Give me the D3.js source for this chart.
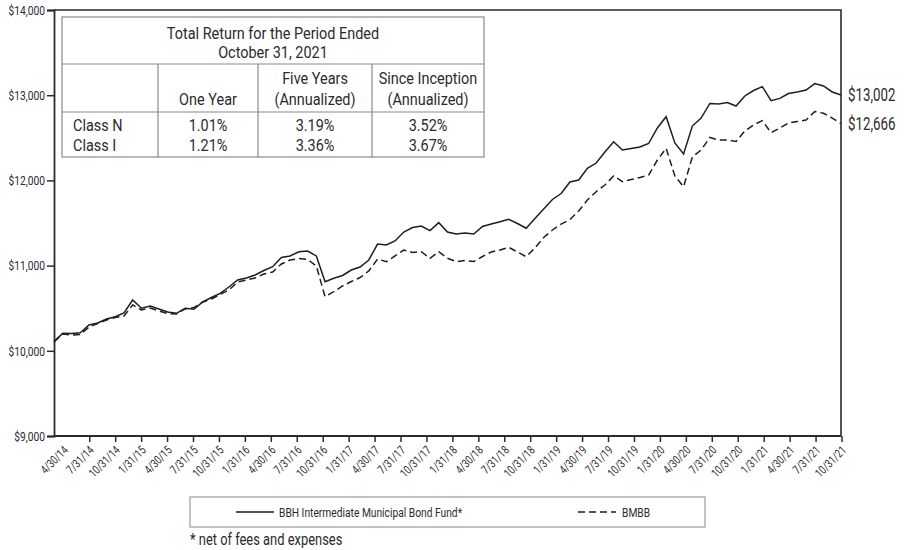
<!DOCTYPE html>
<html lang="en">
<head>
	<meta charset="utf-8">
	<title>BBH Intermediate Municipal Bond Fund - Growth of $10,000</title>
	<script src="https://d3js.org/d3.v7.min.js"></script>
	<style>
		body {margin:0; background:#fff;}
		svg text {font-family:Roboto, "Liberation Sans", sans-serif; fill:#2b2b2b;}
	</style>
</head>
<body>
	<div id="chart"></div>
	<script>
		// Monthly values, 4/30/14 through 10/31/21
		const fundValues = [
			10110, 10205, 10203, 10212, 10303, 10326, 10373, 10400, 10444, 10596,
			10499, 10526, 10490, 10455, 10440, 10499, 10487, 10573, 10626, 10673,
			10749, 10831, 10854, 10890, 10942, 10987, 11095, 11113, 11163, 11171,
			11113, 10811, 10851, 10884, 10948, 10984, 11066, 11253, 11242, 11289,
			11394, 11447, 11465, 11410, 11504, 11394, 11371, 11383, 11371, 11459,
			11488, 11515, 11543, 11494, 11438, 11553, 11664, 11776, 11846, 11981,
			12005, 12142, 12204, 12333, 12454, 12357, 12374, 12392, 12433, 12615,
			12748, 12439, 12310, 12638, 12732, 12903, 12897, 12914, 12873, 12991,
			13055, 13100, 12935, 12963, 13020, 13038, 13061, 13137, 13108, 13038,
			13002
		];
		const indexValues = [
			10105, 10197, 10185, 10191, 10279, 10320, 10361, 10391, 10408, 10538,
			10479, 10502, 10467, 10438, 10432, 10491, 10508, 10573, 10608, 10661,
			10714, 10808, 10831, 10854, 10901, 10925, 11019, 11066, 11083, 11074,
			10995, 10635, 10694, 10761, 10813, 10860, 10937, 11077, 11046, 11113,
			11183, 11154, 11163, 11086, 11163, 11086, 11046, 11060, 11048, 11107,
			11160, 11183, 11215, 11160, 11104, 11207, 11330, 11418, 11488, 11541,
			11641, 11770, 11867, 11946, 12052, 11985, 12010, 12034, 12063, 12239,
			12377, 12052, 11926, 12275, 12357, 12504, 12474, 12474, 12457, 12580,
			12650, 12701, 12560, 12615, 12674, 12691, 12709, 12809, 12788, 12732,
			12666
		];
		const xTickLabels = [
			"4/30/14", "7/31/14", "10/31/14", "1/31/15", "4/30/15", "7/31/15", "10/31/15",
			"1/31/16", "4/30/16", "7/31/16", "10/31/16", "1/31/17", "4/30/17", "7/31/17",
			"10/31/17", "1/31/18", "4/30/18", "7/31/18", "10/31/18", "1/31/19", "4/30/19",
			"7/31/19", "10/31/19", "1/31/20", "4/30/20", "7/31/20", "10/31/20", "1/31/21",
			"4/30/21", "7/31/21", "10/31/21"
		];
		const yTicks = [9000, 10000, 11000, 12000, 13000, 14000];
		const seriesNames = ["BBH Intermediate Municipal Bond Fund*", "BMBB"];
		const endLabels = ["$13,002", "$12,666"];

		const tableTitle = ["Total Return for the Period Ended", "October 31, 2021"];
		const tableColumns = [["", "One Year"], ["Five Years", "(Annualized)"], ["Since Inception", "(Annualized)"]];
		const tableClasses = ["Class N", "Class I"];
		const tableReturns = [["1.01%", "3.19%", "3.52%"], ["1.21%", "3.36%", "3.67%"]];

		const width = 911;
		const height = 550;
		const plotLeft = 54, plotRight = 841, plotTop = 10, plotBottom = 436;
		const squeezeX = 0.76; // no condensed font installed, so narrow the glyphs

		const svg = d3.select("#chart")
							.append("svg")
							.attr("width", width)
							.attr("height", height);

		// text helper: condensed look via horizontal scaling
		function addText(parent, tx, ty, str, size, anchor, squeeze) {
			return parent.append("text")
						 .attr("transform", "translate(" + tx + "," + ty + ") scale(" + (squeeze || squeezeX) + ",1)")
						 .style("font-size", size + "px")
						 .style("text-anchor", anchor || "start")
						 .text(str);
		}

		const x = d3.scaleLinear()
					.domain([0, fundValues.length - 1])
					.range([plotLeft, plotRight]);
		const xLabel = d3.scalePoint()
					.domain(xTickLabels)
					.range([63.3, plotRight + 0.5]);
		const y = d3.scaleLinear()
					.domain([9000, 14000])
					.range([plotBottom, plotTop]);

		// plot frame (top and right)
		svg.append("path")
			 .attr("d", "M" + plotLeft + "," + plotTop + "H" + plotRight + "V" + plotBottom)
			 .attr("fill", "none")
			 .attr("stroke", "#2b2b2b")
			 .attr("stroke-width", 1.6);

		// y axis
		const yAxis = d3.axisLeft(y)
						.tickValues(yTicks)
						.tickSize(7)
						.tickFormat(function (d) { return "$" + d3.format(",")(d); });
		const gy = svg.append("g")
					.attr("transform", "translate(" + plotLeft + ",0)")
					.call(yAxis);
		gy.select(".domain").attr("stroke", "#2b2b2b").attr("stroke-width", 1.8);
		gy.selectAll(".tick line").attr("stroke", "#2b2b2b").attr("stroke-width", 1.5);
		gy.selectAll(".tick text")
			.attr("x", 0)
			.attr("transform", "translate(-9,0) scale(" + squeezeX + ",1)")
			.style("font-size", "13.5px")
			.style("font-family", "Roboto, sans-serif")
			.attr("fill", "#2b2b2b");

		// x axis
		const xAxis = d3.axisBottom(xLabel)
						.tickSize(6)
						.tickSizeOuter(0);
		const gx = svg.append("g")
					.attr("transform", "translate(0," + plotBottom + ")")
					.call(xAxis);
		gx.select(".domain").attr("d", "M" + plotLeft + ",0H" + plotRight).attr("stroke", "#2b2b2b").attr("stroke-width", 1.8);
		gx.selectAll(".tick line")
			.attr("stroke", "#2b2b2b")
			.attr("stroke-width", 1.5)
			.attr("opacity", function (d, i) { return i === 0 ? 0 : 1; });
		gx.selectAll(".tick text")
			.attr("y", 0)
			.attr("dy", 0)
			.attr("transform", "translate(5,15) rotate(-45) scale(" + squeezeX + ",1)")
			.style("text-anchor", "end")
			.style("font-size", "12px")
			.style("font-family", "Roboto, sans-serif")
			.attr("fill", "#2b2b2b");

		// lines
		const line = d3.line()
					.x(function (d, i) { return x(i); })
					.y(function (d) { return y(d); });
		svg.append("path")
			 .datum(indexValues)
			 .attr("d", line)
			 .attr("fill", "none")
			 .attr("stroke", "#1e1e1e")
			 .attr("stroke-width", 1.5)
			 .attr("stroke-dasharray", "7,4");
		svg.append("path")
			 .datum(fundValues)
			 .attr("d", line)
			 .attr("fill", "none")
			 .attr("stroke", "#1e1e1e")
			 .attr("stroke-width", 1.5);

		// end value labels
		const endValues = [fundValues[fundValues.length - 1], indexValues[indexValues.length - 1]];
		endValues.forEach(function (v, i) {
			addText(svg, plotRight + 7, y(v) + 6, endLabels[i], 17.5);
		});

		// returns table
		const tb = {x0: 62, x1: 484, y0: 17, yTitle: 64, yHead: 112, y1: 157, cols: [158, 258, 372]};
		const tableFont = 17;
		const tableSqueeze = 0.85;
		const table = svg.append("g");
		table.append("rect")
			 .attr("x", tb.x0).attr("y", tb.y0)
			 .attr("width", tb.x1 - tb.x0).attr("height", tb.y1 - tb.y0)
			 .attr("fill", "#fff")
			 .attr("stroke", "#8a8a8a")
			 .attr("stroke-width", 1.2);
		[tb.yTitle, tb.yHead].forEach(function (yy) {
			table.append("line")
				 .attr("x1", tb.x0).attr("x2", tb.x1)
				 .attr("y1", yy).attr("y2", yy)
				 .attr("stroke", "#8a8a8a").attr("stroke-width", 1.2);
		});
		tb.cols.forEach(function (xx) {
			table.append("line")
				 .attr("x1", xx).attr("x2", xx)
				 .attr("y1", tb.yTitle).attr("y2", tb.y1)
				 .attr("stroke", "#8a8a8a").attr("stroke-width", 1.2);
		});
		tableTitle.forEach(function (t, i) {
			addText(table, (tb.x0 + tb.x1) / 2, 38.5 + i * 19, t, tableFont, "middle", tableSqueeze);
		});
		const colCenters = [(tb.cols[0] + tb.cols[1]) / 2, (tb.cols[1] + tb.cols[2]) / 2, (tb.cols[2] + tb.x1) / 2];
		tableColumns.forEach(function (c, ci) {
			c.forEach(function (t, li) {
				addText(table, colCenters[ci], 84 + li * 21, t, tableFont, "middle", tableSqueeze);
			});
		});
		tableClasses.forEach(function (c, ri) {
			addText(table, 73, 130.5 + ri * 20.5, c, tableFont, "start", tableSqueeze);
			tableReturns[ri].forEach(function (v, ci) {
				addText(table, colCenters[ci], 130.5 + ri * 20.5, v, tableFont, "middle", tableSqueeze);
			});
		});

		// legend
		const legend = svg.append("g");
		legend.append("rect")
			 .attr("x", 190).attr("y", 497)
			 .attr("width", 515).attr("height", 30)
			 .attr("fill", "#fff")
			 .attr("stroke", "#9a9a9a")
			 .attr("stroke-width", 1.2);
		const legendItems = [
			{x1: 236, x2: 274, tx: 279, dash: null},
			{x1: 578, x2: 616, tx: 622, dash: "7,4"}
		];
		legendItems.forEach(function (it, i) {
			legend.append("line")
				 .attr("x1", it.x1).attr("x2", it.x2)
				 .attr("y1", 512).attr("y2", 512)
				 .attr("stroke", "#1e1e1e")
				 .attr("stroke-width", 1.5)
				 .attr("stroke-dasharray", it.dash);
			addText(legend, it.tx, 516.5, seriesNames[i], 13.5);
		});
		addText(svg, 190, 545, "* net of fees and expenses", 17);
	</script>
</body>
</html>
